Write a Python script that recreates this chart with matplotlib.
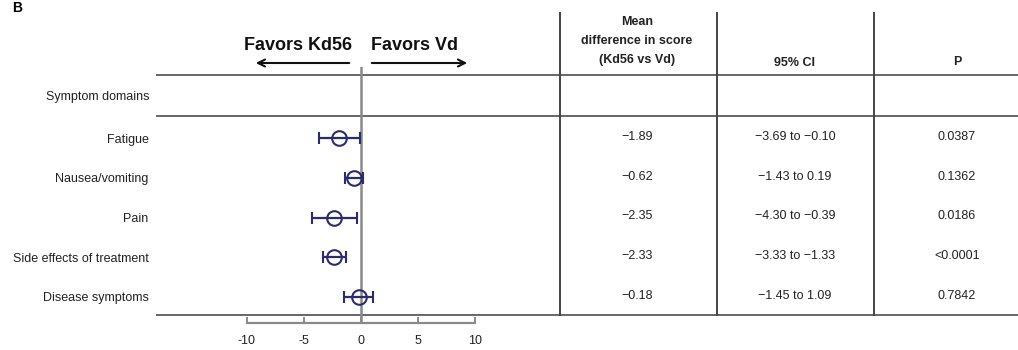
import matplotlib
matplotlib.use("Agg")
import matplotlib.pyplot as plt
import matplotlib.transforms as mtransforms

plt.rcParams['font.family'] = ['Liberation Sans', 'DejaVu Sans']

categories = ["Fatigue", "Nausea/vomiting", "Pain", "Side effects of treatment", "Disease symptoms"]
means = [-1.89, -0.62, -2.35, -2.33, -0.18]
ci_low = [-3.69, -1.43, -4.30, -3.33, -1.45]
ci_high = [-0.10, 0.19, -0.39, -1.33, 1.09]
mean_labels = ["\u22121.89", "\u22120.62", "\u22122.35", "\u22122.33", "\u22120.18"]
ci_labels = ["\u22123.69 to \u22120.10", "\u22121.43 to 0.19", "\u22124.30 to \u22120.39",
             "\u22123.33 to \u22121.33", "\u22121.45 to 1.09"]
p_labels = ["0.0387", "0.1362", "0.0186", "<0.0001", "0.7842"]
xticks = [-10, -5, 0, 5, 10]

W, H = 1018, 350
fig = plt.figure(figsize=(W / 100, H / 100), dpi=100)

# overlay in pixel-like coordinates
ov = fig.add_axes([0, 0, 1, 1])
ov.set_xlim(0, W)
ov.set_ylim(H, 0)
ov.axis('off')

# forest axes
px_left, px_right, px_top, px_bot = 157, 560, 67, 323
ax = fig.add_axes([px_left / W, (H - px_bot) / H, (px_right - px_left) / W, (px_bot - px_top) / H])
ax.patch.set_alpha(0)
scale = 11.4
ax.set_xlim((px_left - 361) / scale, (px_right - 361) / scale)
rs = 39.75
ax.set_ylim((px_bot - 138) / rs, (px_top - 138) / rs)

navy = '#2b2c6b'
gray = '#8a8a8a'
txt = '#222222'
ax.axvline(0, color=gray, lw=1.8, zorder=1)
y = list(range(len(categories)))
xerr = [[m - lo for m, lo in zip(means, ci_low)], [hi - m for m, hi in zip(means, ci_high)]]
ax.errorbar(means, y, xerr=xerr, fmt='o', mfc='none', mec=navy, ms=10.5, mew=1.5,
            ecolor=navy, elinewidth=1.6, capsize=4.3, capthick=1.6, zorder=3)

for s in ['top', 'right', 'left']:
    ax.spines[s].set_visible(False)
ax.spines['bottom'].set_bounds(-10, 10)
ax.spines['bottom'].set_color(gray)
ax.spines['bottom'].set_linewidth(1.6)
ax.set_xticks(xticks)
ax.set_xticklabels([str(t) for t in xticks])
ax.tick_params(axis='x', direction='in', length=4, width=1.4, color=gray, labelsize=9, pad=9,
               labelcolor=txt)
ax.set_yticks(y)
ax.set_yticklabels(categories)
ax.tick_params(axis='y', length=0, labelsize=9, pad=6, labelcolor=txt)

# table lines
lc = '#666666'
for yy in [75, 116, 315]:
    ov.plot([157, W], [yy, yy], color=lc, lw=1.4)
for xx in [560, 717, 874]:
    ov.plot([xx, xx], [13, 315], color='#444444', lw=1.4)

# header
ov.text(298, 45, "Favors Kd56", ha='center', va='center', fontsize=13, fontweight='bold', color='#111111')
ov.text(415, 45, "Favors Vd", ha='center', va='center', fontsize=13, fontweight='bold', color='#111111')
ov.annotate("", xy=(253, 63), xytext=(352, 63),
            arrowprops=dict(arrowstyle='->,head_length=0.5,head_width=0.25', color='#111111', lw=1.5))
ov.annotate("", xy=(470, 63), xytext=(369, 63),
            arrowprops=dict(arrowstyle='->,head_length=0.5,head_width=0.25', color='#111111', lw=1.5))
ov.text(637, 41, "Mean\ndifference in score\n(Kd56 vs Vd)", ha='center', va='center',
        fontsize=9, fontweight='bold', linespacing=1.75, color=txt)
ov.text(795, 63, "95% CI", ha='center', va='center', fontsize=9, fontweight='bold', color=txt)
ov.text(957, 62, "P", ha='center', va='center', fontsize=9, fontweight='bold', color=txt)
ov.text(150, 97, "Symptom domains", ha='right', va='center', fontsize=9, color=txt)
ov.text(12, 0.5, "B", ha='left', va='top', fontsize=10, fontweight='bold')

# table values
tr = mtransforms.blended_transform_factory(ov.transData, ax.transData)
for i in range(len(categories)):
    ov.text(637, i - 0.03, mean_labels[i], transform=tr, ha='center', va='center', fontsize=9, color=txt)
    ov.text(795, i - 0.03, ci_labels[i], transform=tr, ha='center', va='center', fontsize=9, color=txt)
    ov.text(957, i - 0.03, p_labels[i], transform=tr, ha='center', va='center', fontsize=9, color=txt)

fig.savefig("out.png", dpi=100)
